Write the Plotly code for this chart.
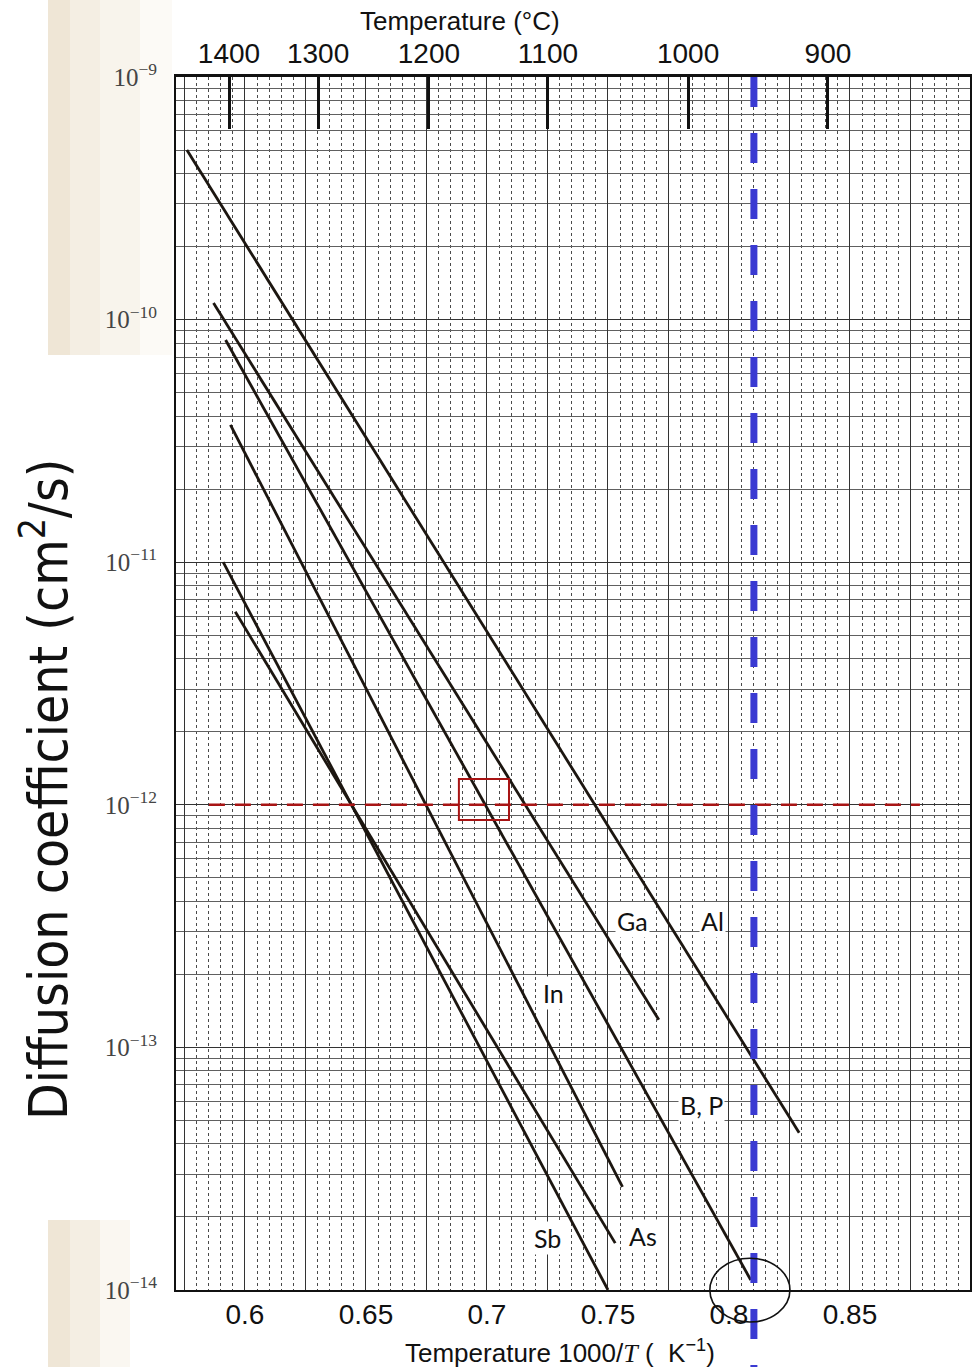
import numpy as np
import plotly.graph_objects as go

# ---------------- data ----------------
# 1000/T (K^-1) and diffusion coefficient D (cm^2/s) at both ends of each line
AL_X = [0.576, 0.829]
AL_D = [5.00e-10, 4.45e-14]
GA_X = [0.587, 0.771]
GA_D = [1.17e-10, 1.30e-13]
BP_X = [0.592, 0.809]
BP_D = [8.24e-11, 1.10e-14]
IN_X = [0.594, 0.756]
IN_D = [3.68e-11, 2.66e-14]
SB_X = [0.591, 0.750]
SB_D = [1.00e-11, 1.00e-14]
AS_X = [0.596, 0.753]
AS_D = [6.25e-12, 1.56e-14]

SERIES = [("Al", AL_X, AL_D), ("Ga", GA_X, GA_D), ("B, P", BP_X, BP_D),
          ("In", IN_X, IN_D), ("Sb", SB_X, SB_D), ("As", AS_X, AS_D)]

X_TICK_LABELS = ["0.6", "0.65", "0.7", "0.75", "0.8", "0.85"]
TOP_TICK_LABELS = ["1400", "1300", "1200", "1100", "1000", "900"]
TOP_TICK_POS = [0.5934, 0.6302, 0.6760, 0.7252, 0.7831, 0.8409]
Y_DECADES = [-14, -13, -12, -11, -10, -9]

# highlighted reading: vertical line (1000/T) and horizontal line (D)
BLUE_X = 0.8103
RED_D_LOG = -12

# ---------------- layout geometry ----------------
W, H = 978, 1367
ML, MR, MT, MB = 176, 8, 77, 77
XR = [0.5715, 0.8996]
YR = [-14, -9]
PW, PH = W - ML - MR, H - MT - MB


def xp(v):  # data x -> paper
    return (v - XR[0]) / (XR[1] - XR[0])


def yp(lv):  # log10 data y -> paper
    return (lv - YR[0]) / (YR[1] - YR[0])


def pxx(px):  # pixel -> paper (decorations only)
    return (px - ML) / PW


def pyy(py):
    return (H - MB - py) / PH


fig = go.Figure()

for name, xs, ds in SERIES:
    fig.add_trace(go.Scatter(x=xs, y=ds, mode="lines", name=name,
                             line=dict(color="#1c1610", width=2.8),
                             showlegend=False, hoverinfo="skip"))

# invisible trace for the top temperature axis
fig.add_trace(go.Scatter(x=[TOP_TICK_POS[0]], y=[1e-12], xaxis="x2", mode="markers",
                         marker=dict(opacity=0), showlegend=False, hoverinfo="skip"))

grid_vals = list(np.round(np.arange(0.575, 0.9001, 0.025), 3))
grid_text = [(f"{v:g}" if f"{v:g}" in X_TICK_LABELS else "") for v in grid_vals]

tick_font = dict(family="Liberation Sans Narrow, Arial Narrow, Liberation Sans, Arial, sans-serif",
                 size=28, color="#111")

fig.update_layout(
    width=W, height=H,
    margin=dict(l=ML, r=MR, t=MT, b=MB, autoexpand=False),
    paper_bgcolor="white", plot_bgcolor="white",
    xaxis=dict(range=XR, tickmode="array", tickvals=grid_vals, ticktext=grid_text,
               ticks="", tickfont=tick_font, automargin=False, ticklabelstandoff=-2,
               showline=True, linecolor="#111", linewidth=2, mirror=True,
               showgrid=True, gridcolor="#333", gridwidth=1.3, zeroline=False,
               minor=dict(dtick=0.005, tick0=0.6, showgrid=True, gridcolor="#4a4a4a",
                          griddash="dot", gridwidth=1)),
    xaxis2=dict(range=XR, overlaying="x", side="top", tickmode="array",
                tickvals=TOP_TICK_POS, ticktext=TOP_TICK_LABELS, automargin=False,
                ticks="inside", ticklen=52, tickwidth=2.5, tickcolor="#111",
                tickfont=tick_font, showgrid=False, zeroline=False,
                showline=True, linecolor="#111", linewidth=3),
    yaxis=dict(type="log", range=YR, tickmode="array", automargin=False,
               tickvals=[10.0 ** d for d in Y_DECADES],
               ticktext=[f"10<sup>\u2212{-d}</sup>" for d in Y_DECADES],
               ticks="", ticklabelstandoff=12,
               tickfont=dict(family="Liberation Serif, Times New Roman, serif", size=25, color="#444"),
               showline=True, linecolor="#111", linewidth=2, mirror=True,
               showgrid=True, gridcolor="#333", gridwidth=1.4, zeroline=False,
               minor=dict(dtick="D1", showgrid=True, gridcolor="#606060", gridwidth=1)),
)

shapes = []
# scanned-page margins (beige) and white title box
for (x0, x1, col) in [(48, 70, "#efe6d6"), (70, 100, "#f4eee3"), (100, 140, "#f8f4ec"), (140, 172, "#fcfaf6")]:
    shapes.append(dict(type="rect", xref="paper", yref="paper", layer="below",
                       x0=pxx(x0), x1=pxx(x1), y0=pyy(355), y1=pyy(0),
                       fillcolor=col, line=dict(width=0)))
for (x0, x1, col) in [(48, 70, "#efe6d6"), (70, 100, "#f4eee3"), (100, 130, "#faf7f1")]:
    shapes.append(dict(type="rect", xref="paper", yref="paper", layer="below",
                       x0=pxx(x0), x1=pxx(x1), y0=pyy(H), y1=pyy(1220),
                       fillcolor=col, line=dict(width=0)))
shapes.append(dict(type="rect", xref="paper", yref="paper", layer="below",
                   x0=pxx(0), x1=pxx(88), y0=pyy(1220), y1=pyy(355),
                   fillcolor="white", line=dict(width=0)))

# red dashed horizontal line at D = 1e-12
shapes.append(dict(type="line", xref="paper", yref="paper", layer="above",
                   x0=xp(0.5851), x1=xp(0.8789), y0=yp(RED_D_LOG), y1=yp(RED_D_LOG),
                   line=dict(color="#a81414", width=2.4, dash="16px,10px")))
# red box
shapes.append(dict(type="rect", xref="paper", yref="paper", layer="above",
                   x0=xp(0.6884), x1=xp(0.7091), y0=yp(-12.063), y1=yp(-11.894),
                   line=dict(color="#a81414", width=2)))
# blue dashed vertical line
shapes.append(dict(type="line", xref="paper", yref="paper", layer="above",
                   x0=xp(BLUE_X), x1=xp(BLUE_X), y0=1, y1=-0.075,
                   line=dict(color="#3a3ad2", width=7, dash="30px,26px")))
# black ellipse
shapes.append(dict(type="circle", xref="paper", yref="paper", layer="above",
                   x0=xp(0.7921), x1=xp(0.8252), y0=yp(-14.132), y1=yp(-13.869),
                   line=dict(color="#111", width=1.6)))
fig.update_layout(shapes=shapes)

lab_font = dict(family="Lato, Open Sans, sans-serif", size=25, color="#111")
labels = [("Ga", 0.7603, -12.479), ("Al", 0.7930, -12.479), ("In", 0.7273, -12.776),
          ("B, P", 0.7888, -13.237), ("Sb", 0.7252, -13.786), ("As", 0.7645, -13.777)]
ann = []
for t, x, ly in labels:
    ann.append(dict(text=t, x=x, y=ly, xref="x", yref="y", showarrow=False,
                    xanchor="center", yanchor="middle",
                    font=lab_font, bgcolor="white", borderpad=1))

ann.append(dict(text="Temperature (\u00b0C)", x=pxx(460), y=pyy(21), xref="paper", yref="paper",
                xanchor="center", yanchor="middle",
                showarrow=False, font=dict(family=tick_font["family"], size=26, color="#111")))
ann.append(dict(text="Temperature 1000/<span style='font-family:Liberation Serif'><i>T</i></span> (  K<sup>\u22121</sup>)",
                x=pxx(560), y=pyy(1351), xref="paper", yref="paper",
                xanchor="center", yanchor="middle",
                showarrow=False, font=dict(family=tick_font["family"], size=26, color="#111")))
ann.append(dict(text="Diffusion coefficient (cm<sup>2</sup>/s)", textangle=-90,
                x=pxx(45), y=pyy(790), xref="paper", yref="paper", showarrow=False,
                xanchor="center", yanchor="middle",
                font=dict(family="DejaVu Sans Condensed, DejaVu Sans, sans-serif", size=53,
                          color="#111")))
fig.update_layout(annotations=ann)

fig.write_html("out.html", config={"displayModeBar": False},
               post_script="document.body.style.margin='0';document.body.style.overflow='hidden';")
